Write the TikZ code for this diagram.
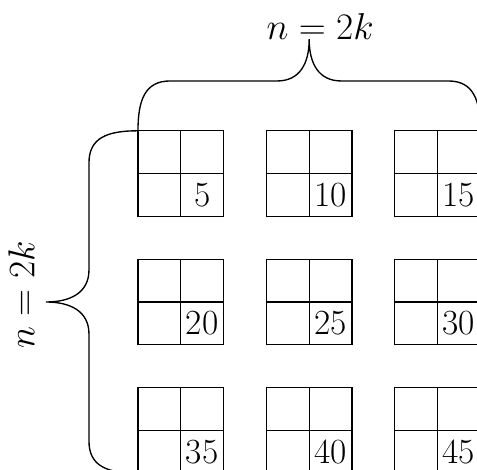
\documentclass[tikz,border=0pt]{standalone}
\usetikzlibrary{calc}
\begin{document}
\begin{tikzpicture}[
  x=1cm,y=1cm,
  line width=0.9pt,
  cellbox/.style={draw, minimum size=2cm, inner sep=0pt, outer sep=0pt},
  numtext/.style={font=\fontsize{23.5}{28}\selectfont, inner sep=0pt},
  lbltext/.style={font=\fontsize{24.5}{29}\selectfont, inner sep=0pt},
  bracepath/.style={line width=0.9pt}
]
\clip (-3.224,3.056) rectangle (7.921,-7.925);
\foreach \r in {0,1,2}{
  \foreach \c in {0,1,2}{
    \pgfmathtruncatemacro{\num}{5*(3*\r+\c+1)}
    \node[cellbox] (b\r\c) at (3*\c+1, -3*\r-1) {};
    \draw (b\r\c.north) -- (b\r\c.south);
    \draw (b\r\c.west) -- (b\r\c.east);
    \node[numtext] (n\r\c) at ($(b\r\c.center)+(0.5,-0.5)$) {\num};
  }
}
% top brace
\draw[bracepath] (0,0) .. controls (0,0.72) and (0.164,1.164) .. (0.75,1.164)
  -- (3.25,1.164) .. controls (3.785,1.164) and (4,1.58) .. (4,2.14)
  .. controls (4,1.58) and (4.215,1.164) .. (4.75,1.164)
  -- (7.25,1.164) .. controls (7.836,1.164) and (8,0.72) .. (8,0);
% left brace
\draw[bracepath] (0,0) .. controls (-0.72,0) and (-1.145,-0.164) .. (-1.145,-0.75)
  -- (-1.145,-3.25) .. controls (-1.145,-3.785) and (-1.58,-4) .. (-2.15,-4)
  .. controls (-1.58,-4) and (-1.145,-4.215) .. (-1.145,-4.75)
  -- (-1.145,-7.25) .. controls (-1.145,-7.836) and (-0.72,-8) .. (0,-8);
\node[lbltext, anchor=base west] (toplbl) at (2.99,2.14) {$n=2k$};
\node[lbltext, anchor=base west, rotate=90] (leftlbl) at (-2.42,-5.1) {$n=2k$};
\end{tikzpicture}
\end{document}
